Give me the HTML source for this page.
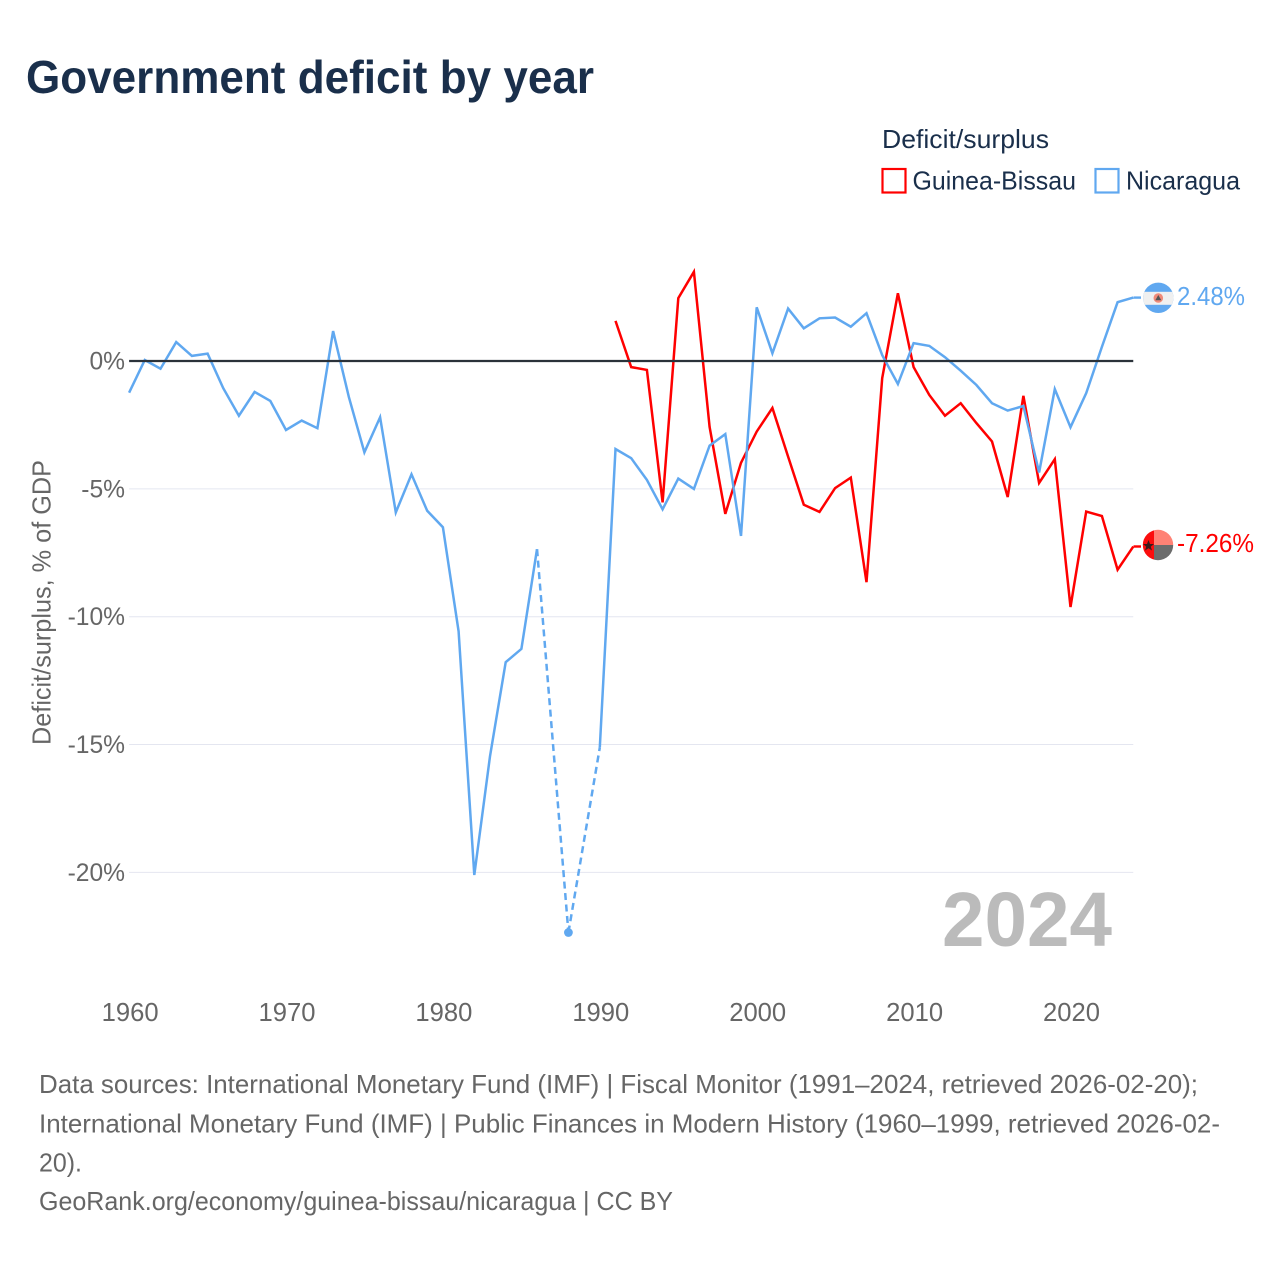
<!DOCTYPE html>
<html lang="en">
<head>
<meta charset="utf-8">
<title>Government deficit by year</title>
<style>
html,body{margin:0;padding:0;background:#fff;}
svg{display:block;}
text{font-family:"Liberation Sans",sans-serif;}
</style>
</head>
<body>
<svg id="chart" xmlns="http://www.w3.org/2000/svg" width="1280" height="1280" viewBox="0 0 1280 1280">
  <defs>
    <clipPath id="clip-ni"><circle cx="1158.3" cy="297.8" r="15.2"/></clipPath>
    <clipPath id="clip-gw"><circle cx="1158" cy="545" r="15.2"/></clipPath>
  </defs>
  <rect width="1280" height="1280" fill="#fff"/>
  <text x="26" y="93" font-size="46" font-weight="700" fill="#1a2f4b" textLength="568" lengthAdjust="spacingAndGlyphs">Government deficit by year</text>

  <g>
    <text x="882" y="148" font-size="26" fill="#1a2f4b" textLength="167" lengthAdjust="spacingAndGlyphs">Deficit/surplus</text>
    <g>
      <rect x="882.5" y="169" width="23" height="23.5" fill="none" stroke="#ff0000" stroke-width="2.2"/>
      <text x="912.5" y="189.5" font-size="26" fill="#1a2f4b" textLength="163.5" lengthAdjust="spacingAndGlyphs">Guinea-Bissau</text>
    </g>
    <g>
      <rect x="1095.5" y="169" width="23" height="23.5" fill="none" stroke="#60a8f0" stroke-width="2.2"/>
      <text x="1126" y="189.5" font-size="26" fill="#1a2f4b" textLength="114" lengthAdjust="spacingAndGlyphs">Nicaragua</text>
    </g>
  </g>

  <text transform="translate(50.5,745) rotate(-90)" x="0" y="0" font-size="26" fill="#666666" textLength="285" lengthAdjust="spacingAndGlyphs">Deficit/surplus, % of GDP</text>

  <g id="grid"></g>
  <g id="ylabels"></g>
  <g id="xlabels"></g>

  <text x="942" y="946" font-size="77" font-weight="700" fill="#bbbbbb" textLength="170" lengthAdjust="spacingAndGlyphs">2024</text>

  <g id="series"></g>
  <line id="zero" stroke="#2b323a" stroke-width="2.2"/>

  <g>
    <line x1="1133.5" y1="297.6" x2="1141" y2="297.6" stroke="#60a8f0" stroke-width="2.4"/>
    <g clip-path="url(#clip-ni)">
      <rect x="1142" y="282" width="32" height="32" fill="#60a8f0"/>
      <rect x="1142" y="291.8" width="32" height="13" fill="#f0f0f0"/>
      <circle cx="1158.3" cy="298" r="4.8" fill="#f08a78"/>
      <polygon points="1155.3,300.2 1161.3,300.2 1158.3,295" fill="#555"/>
    </g>
    <text x="1177" y="305" font-size="26" fill="#60a8f0" textLength="68" lengthAdjust="spacingAndGlyphs">2.48%</text>
  </g>
  <g>
    <line x1="1133.5" y1="546.5" x2="1141" y2="546.5" stroke="#ff0000" stroke-width="2.4"/>
    <g clip-path="url(#clip-gw)">
      <rect x="1142" y="529" width="12" height="32" fill="#fb0d0d"/>
      <rect x="1154" y="529" width="20" height="16" fill="#ff8275"/>
      <rect x="1154" y="545" width="20" height="16" fill="#6c6c6c"/>
      <polygon points="1148.5,540 1150,544 1154,544 1150.8,546.6 1152,550.5 1148.5,548.2 1145,550.5 1146.2,546.6 1143,544 1147,544" fill="#3a1a1a"/>
    </g>
    <text x="1177" y="552" font-size="26" fill="#ff0000" textLength="77" lengthAdjust="spacingAndGlyphs">-7.26%</text>
  </g>

  <g font-size="26" fill="#666666">
    <text x="39" y="1093" textLength="1159" lengthAdjust="spacingAndGlyphs">Data sources: International Monetary Fund (IMF) | Fiscal Monitor (1991–2024, retrieved 2026-02-20);</text>
    <text x="39" y="1132.5" textLength="1181" lengthAdjust="spacingAndGlyphs">International Monetary Fund (IMF) | Public Finances in Modern History (1960–1999, retrieved 2026-02-</text>
    <text x="39" y="1171.5" textLength="43" lengthAdjust="spacingAndGlyphs">20).</text>
    <text x="39" y="1210" textLength="634" lengthAdjust="spacingAndGlyphs">GeoRank.org/economy/guinea-bissau/nicaragua | CC BY</text>
  </g>
</svg>
<script>
const years = [];
for (let yr = 1960; yr <= 2024; yr++) years.push(yr);
const nicaragua = [-1.24,0.04,-0.3,0.74,0.2,0.29,-1.06,-2.14,-1.21,-1.56,-2.7,-2.33,-2.63,1.17,-1.4,-3.57,-2.2,-5.92,-4.43,-5.86,-6.5,-10.57,-20.1,-15.46,-11.78,-11.26,-7.36,null,-22.35,null,-15.12,-3.44,-3.8,-4.65,-5.8,-4.6,-5.0,-3.31,-2.86,-6.84,2.1,0.3,2.05,1.28,1.67,1.7,1.34,1.87,0.23,-0.9,0.7,0.59,0.15,-0.38,-0.94,-1.65,-1.94,-1.76,-4.36,-1.1,-2.59,-1.26,0.55,2.3,2.48];
const guineaBissau = [null,null,null,null,null,null,null,null,null,null,null,null,null,null,null,null,null,null,null,null,null,null,null,null,null,null,null,null,null,null,null,1.57,-0.24,-0.35,-5.53,2.46,3.49,-2.58,-5.98,-3.98,-2.76,-1.84,-3.74,-5.62,-5.9,-4.97,-4.56,-8.65,-0.67,2.65,-0.24,-1.33,-2.14,-1.65,-2.43,-3.15,-5.32,-1.36,-4.77,-3.84,-9.62,-5.89,-6.06,-8.16,-7.26];
const yTicks = [0,-5,-10,-15,-20];
const yTickLabels = ["0%","-5%","-10%","-15%","-20%"];
const xTicks = [1960,1970,1980,1990,2000,2010,2020];
const xTickLabels = ["1960","1970","1980","1990","2000","2010","2020"];

const NS = "http://www.w3.org/2000/svg";
const xScale = function (yr) { return 129.1 + (yr - 1960) * 15.69; };
const yScale = function (v) { return 361 - v * 25.57; };

const grid = document.getElementById("grid");
const ylabels = document.getElementById("ylabels");
const xlabels = document.getElementById("xlabels");
const seriesGroup = document.getElementById("series");

yTicks.forEach(function (t, i) {
  if (t !== 0) {
    const g = document.createElementNS(NS, "line");
    
    
    g.setAttribute("x1", xScale(1960));
    g.setAttribute("x2", xScale(2024));
    g.setAttribute("y1", yScale(t));
    g.setAttribute("y2", yScale(t));
    g.setAttribute("stroke", "#e4e6f0");
    g.setAttribute("stroke-width", "1");
    grid.appendChild(g);
  }
  const label = document.createElementNS(NS, "text");
  
  
  label.setAttribute("x", 125);
  label.setAttribute("y", yScale(t) + 8.5);
  label.setAttribute("text-anchor", "end");
  label.setAttribute("font-size", "24.6");
  label.setAttribute("fill", "#666666");
  label.textContent = yTickLabels[i];
  ylabels.appendChild(label);
});

xTicks.forEach(function (t, i) {
  const label = document.createElementNS(NS, "text");
  
  
  label.setAttribute("x", xScale(t) + 1);
  label.setAttribute("y", 1021);
  label.setAttribute("text-anchor", "middle");
  label.setAttribute("font-size", "25.6");
  label.setAttribute("fill", "#666666");
  label.textContent = xTickLabels[i];
  xlabels.appendChild(label);
});

function drawSeries(values, color, name) {
  let run = [];
  let prev = null;
  function flush() {
    if (run.length > 1) {
      const p = document.createElementNS(NS, "polyline");
      
      
      p.setAttribute("points", run.map(function (q) { return q[0].toFixed(1) + "," + q[1].toFixed(1); }).join(" "));
      p.setAttribute("fill", "none");
      p.setAttribute("stroke", color);
      p.setAttribute("stroke-width", "2.5");
      p.setAttribute("stroke-linejoin", "miter");
      p.setAttribute("class", name);
      seriesGroup.appendChild(p);
    } else if (run.length === 1) {
      const c = document.createElementNS(NS, "circle");
      
      
      c.setAttribute("cx", run[0][0]);
      c.setAttribute("cy", run[0][1]);
      c.setAttribute("r", "4.4");
      c.setAttribute("fill", color);
      seriesGroup.appendChild(c);
    }
    run = [];
  }
  values.forEach(function (v, i) {
    if (v === null) {
      flush();
      return;
    }
    const pt = [xScale(years[i]), yScale(v)];
    if (prev && prev.index !== i - 1) {
      const d = document.createElementNS(NS, "line");
      
      
      d.setAttribute("x1", prev.pt[0]);
      d.setAttribute("y1", prev.pt[1]);
      d.setAttribute("x2", pt[0]);
      d.setAttribute("y2", pt[1]);
      d.setAttribute("stroke", color);
      d.setAttribute("stroke-width", "2.5");
      d.setAttribute("stroke-dasharray", "7 4.5");
      seriesGroup.appendChild(d);
    }
    run.push(pt);
    prev = { index: i, pt: pt };
  });
  flush();
}

drawSeries(guineaBissau, "#ff0000", "guinea-bissau");
drawSeries(nicaragua, "#60a8f0", "nicaragua");

const zero = document.getElementById("zero");
zero.setAttribute("x1", xScale(1960));
zero.setAttribute("x2", xScale(2024));
zero.setAttribute("y1", yScale(0));
zero.setAttribute("y2", yScale(0));
</script>
</body>
</html>
